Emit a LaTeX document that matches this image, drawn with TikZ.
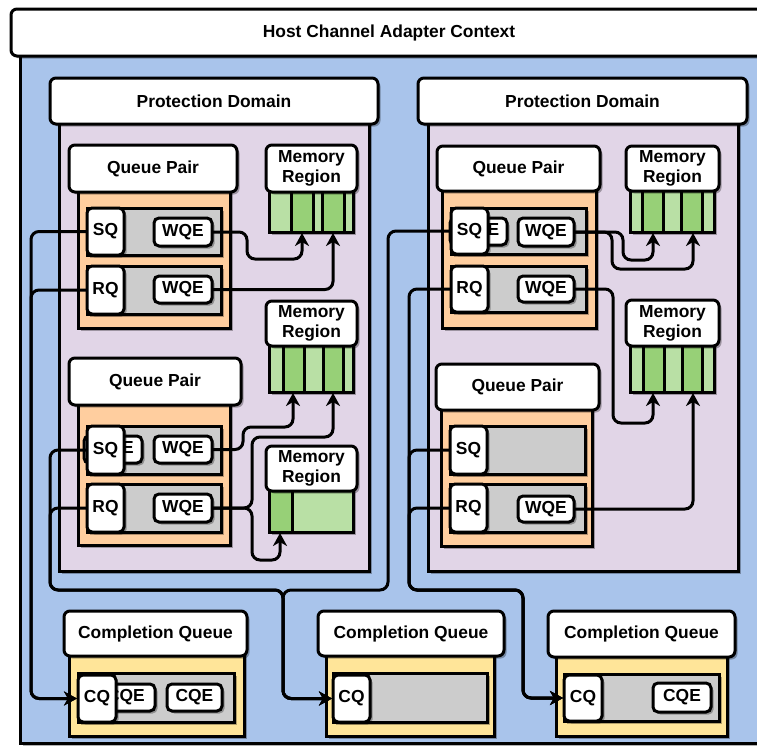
\documentclass[tikz,border=0pt]{standalone}
\usepackage{fontspec}
\setmainfont{Liberation Sans}
\usetikzlibrary{shadows,arrows.meta}

\definecolor{hcablue}{HTML}{A9C4EB}
\definecolor{pdpurple}{HTML}{E1D5E7}
\definecolor{qporange}{HTML}{FFCE9F}
\definecolor{cqyellow}{HTML}{FFE599}
\definecolor{rowgrey}{HTML}{CCCCCC}
\definecolor{mrdark}{HTML}{97D077}
\definecolor{mrlight}{HTML}{B9E0A5}

\tikzset{
    boxline/.style={draw, line width=3pt, inner sep=0pt, outer sep=0pt,
        anchor=north west,
        drop shadow={shadow xshift=2.5pt, shadow yshift=-2.5pt, opacity=0.3, fill=black}},
    size/.style 2 args={minimum width=#1, minimum height=#2},
    titlebox/.style={boxline, fill=white, rounded corners=6pt, align=center,
        font=\bfseries\fontsize{17.4}{20}\selectfont},
    bodybox/.style={boxline, fill=#1},
    tagbox/.style={titlebox, rounded corners=5pt},
    wire/.style={line width=3pt, rounded corners=8pt, shorten >=1pt,
        -{Stealth[length=13pt, width=14pt, inset=4pt]}},
}

\begin{document}
\begin{tikzpicture}[x=1pt, y=-1pt]
    \useasboundingbox (0,0) rectangle (757,745);
    \clip (0,0) rectangle (757,745);

    % Host channel adapter
    \node[bodybox=hcablue, size={742}{703}] (hcaBody) at (20,40) {};
    \node[titlebox, size={756}{47}] (hca) at (11,9) {Host Channel Adapter Context};

    % Protection domains
    \node[bodybox=pdpurple, size={310}{461}] (pdAbody) at (59,110) {};
    \node[titlebox, size={328}{46}] (pdA) at (50,78) {Protection Domain};
    \node[bodybox=pdpurple, size={310}{461}] (pdBbody) at (428,110) {};
    \node[titlebox, size={329}{46}] (pdB) at (418,78) {Protection Domain};

    % Queue pair A
    \node[bodybox=qporange, size={152}{158}] (qpAbody) at (78,170) {};
    \node[titlebox, size={168}{47}] (qpA) at (69,145) {Queue Pair};
    \node[bodybox=rowgrey, size={134}{47}] (sqArow) at (87,208) {};
    \node[tagbox, size={58}{28}] (wqeA1) at (154,218) {WQE};
    \node[tagbox, size={37}{47}] (sqA) at (87,208) {SQ};
    \node[bodybox=rowgrey, size={134}{48}] (rqArow) at (87,266) {};
    \node[tagbox, size={58}{27}] (wqeA2) at (154,276) {WQE};
    \node[tagbox, size={37}{48}] (rqA) at (87,266) {RQ};

    % Queue pair B
    \node[bodybox=qporange, size={152}{160}] (qpBbody) at (78,385) {};
    \node[titlebox, size={172}{47}] (qpB) at (69,358) {Queue Pair};
    \node[bodybox=rowgrey, size={134}{48}] (sqBrow) at (87,426) {};
    \node[tagbox, size={58}{27}] (wqeB0) at (84,436) {WQE};
    \node[tagbox, size={58}{27}] (wqeB1) at (154,436) {WQE};
    \node[tagbox, size={37}{48}] (sqB) at (87,426) {SQ};
    \node[bodybox=rowgrey, size={134}{48}] (rqBrow) at (87,484) {};
    \node[tagbox, size={58}{28}] (wqeB2) at (154,494) {WQE};
    \node[tagbox, size={37}{48}] (rqB) at (87,484) {RQ};

    % Queue pair C
    \node[bodybox=qporange, size={154}{158}] (qpCbody) at (442,170) {};
    \node[titlebox, size={163}{45}] (qpC) at (437,146) {Queue Pair};
    \node[bodybox=rowgrey, size={135}{46}] (sqCrow) at (451,208) {};
    \node[tagbox, size={57}{27}] (wqeC0) at (450,218) {WQE};
    \node[tagbox, size={56}{28}] (wqeC1) at (518,218) {WQE};
    \node[tagbox, size={37}{46}] (sqC) at (451,208) {SQ};
    \node[bodybox=rowgrey, size={135}{46}] (rqCrow) at (451,266) {};
    \node[tagbox, size={56}{26}] (wqeC2) at (518,276) {WQE};
    \node[tagbox, size={37}{46}] (rqC) at (451,266) {RQ};

    % Queue pair D
    \node[bodybox=qporange, size={151}{158}] (qpDbody) at (441,388) {};
    \node[titlebox, size={163}{46}] (qpD) at (436,364) {Queue Pair};
    \node[bodybox=rowgrey, size={135}{48}] (sqDrow) at (450,426) {};
    \node[tagbox, size={37}{48}] (sqD) at (450,426) {SQ};
    \node[bodybox=rowgrey, size={135}{48}] (rqDrow) at (450,484) {};
    \node[tagbox, size={56}{26}] (wqeD) at (518,496) {WQE};
    \node[tagbox, size={37}{48}] (rqD) at (450,484) {RQ};

    % Memory regions: light body, dark pages, dividers
    \node[bodybox=mrlight, size={84}{62}] (mrAbody) at (269,170) {};
    \foreach \a/\b in {291/313, 322/344}
        \fill[mrdark] (\a,192) rectangle (\b,230.5);
    \foreach \x in {291, 313, 322, 344}
        \draw[line width=3pt] (\x,192) -- (\x,232);
    \node[titlebox, size={91}{47}] (mrA) at (266,145) {Memory\\Region};

    \node[bodybox=mrlight, size={84}{67}] (mrBbody) at (269,325) {};
    \foreach \a/\b in {283/304, 323/343}
        \fill[mrdark] (\a,346) rectangle (\b,390.5);
    \foreach \x in {283, 304, 323, 343}
        \draw[line width=3pt] (\x,346) -- (\x,392);
    \node[titlebox, size={91}{45}] (mrB) at (266,301) {Memory\\Region};

    \node[bodybox=mrlight, size={84}{62}] (mrCbody) at (269,470) {};
    \fill[mrdark] (270.5,491) rectangle (292,530.5);
    \draw[line width=3pt] (292,491) -- (292,532);
    \node[titlebox, size={91}{45}] (mrC) at (266,446) {Memory\\Region};

    \node[bodybox=mrlight, size={84}{62}] (mrDbody) at (630,170) {};
    \foreach \a/\b in {642/663, 681/702}
        \fill[mrdark] (\a,191) rectangle (\b,230.5);
    \foreach \x in {642, 663, 681, 702}
        \draw[line width=3pt] (\x,191) -- (\x,232);
    \node[titlebox, size={93}{45}] (mrD) at (626,146) {Memory\\Region};

    \node[bodybox=mrlight, size={84}{67}] (mrEbody) at (630,325) {};
    \foreach \a/\b in {643/664, 682/702}
        \fill[mrdark] (\a,346) rectangle (\b,390.5);
    \foreach \x in {643, 664, 682, 702}
        \draw[line width=3pt] (\x,346) -- (\x,392);
    \node[titlebox, size={93}{46}] (mrE) at (626,300) {Memory\\Region};

    % Completion queues
    \node[bodybox=cqyellow, size={175}{101}] (cqAbody) at (69,635) {};
    \node[titlebox, size={183}{45}] (cqAtitle) at (64,611) {Completion Queue};
    \node[bodybox=rowgrey, size={156}{49}] (cqArow) at (78,673) {};
    \node[tagbox, size={58}{27}] (cqeA0) at (97,684) {CQE};
    \node[tagbox, size={55}{27}] (cqeA1) at (167,684) {CQE};
    \node[tagbox, size={38}{47}] (cqA) at (78,675) {CQ};

    \node[bodybox=cqyellow, size={168}{101}] (cqBbody) at (326,635) {};
    \node[titlebox, size={186}{45}] (cqBtitle) at (318,611) {Completion Queue};
    \node[bodybox=rowgrey, size={154}{49}] (cqBrow) at (333,673) {};
    \node[tagbox, size={37}{47}] (cqB) at (333,675) {CQ};

    \node[bodybox=cqyellow, size={171}{101}] (cqCbody) at (556,635) {};
    \node[titlebox, size={187}{46}] (cqCtitle) at (548,611) {Completion Queue};
    \node[bodybox=rowgrey, size={155}{47}] (cqCrow) at (564,674) {};
    \node[tagbox, size={58}{29}] (cqeC) at (653,683) {CQE};
    \node[tagbox, size={38}{46}] (cqC) at (564,675) {CQ};

    % Bus lines down to the completion queues
    \coordinate (busA) at (31,0);
    \coordinate (busB) at (50,590);
    \coordinate (busC) at (388,590);
    \coordinate (busD) at (409,590);
    \coordinate (dropB) at (283,0);
    \coordinate (dropC) at (523,0);

    \foreach \q in {sqA, rqA}
        \draw[wire] (\q.west) -| (busA |- cqA.west) -- (cqA.west);
    \foreach \q in {sqB, rqB}
        \draw[wire] (\q.west) -| (busB) -| (dropB |- cqB.west) -- (cqB.west);
    \draw[wire] (sqC.west) -| (busC) -| (dropB |- cqB.west) -- (cqB.west);
    \foreach \q in {rqC, sqD, rqD}
        \draw[wire] (\q.west) -| (busD) -| (dropC |- cqC.west) -- (cqC.west);

    % Work requests pointing into memory
    \draw[wire] (wqeA1.east) -| (247,259) -| ([xshift=-9pt]mrAbody.south);
    \draw[wire] (wqeA2.east) -| ([xshift=22pt]mrAbody.south);
    \draw[wire] (wqeB1.east) -| (243,427) -| ([xshift=-18pt]mrBbody.south);
    \draw[wire] (wqeB2.east) -| (252,437) -| ([xshift=22pt]mrBbody.south);
    \draw[wire] (wqeB2.east) -| (252,560) -| ([xshift=-31pt]mrCbody.south);
    \draw[wire] (wqeC1.east) -| (623,260) -| ([xshift=-19pt]mrDbody.south);
    \draw[wire] (wqeC1.east) -| (612,269) -| ([xshift=21pt]mrDbody.south);
    \draw[wire] (wqeC2.east) -| (613,423) -| ([xshift=-19pt]mrEbody.south);
    \draw[wire] (wqeD.east) -| ([xshift=21pt]mrEbody.south);
\end{tikzpicture}
\end{document}
